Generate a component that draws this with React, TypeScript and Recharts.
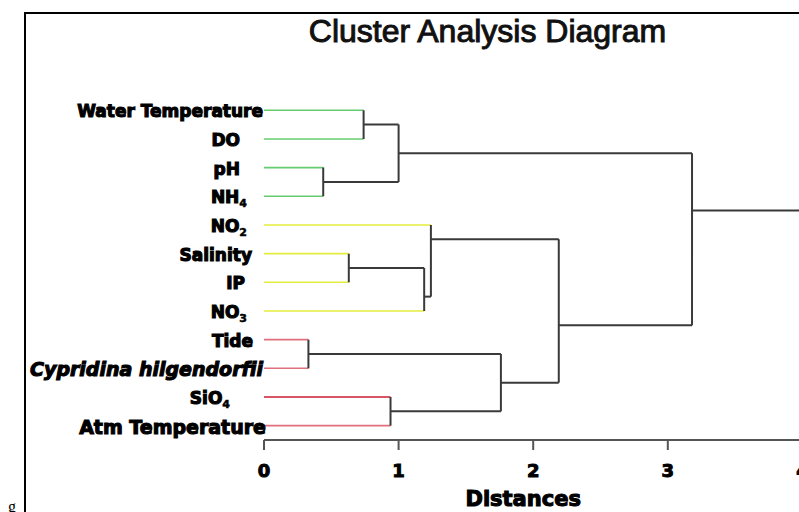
import React from 'react';
import { ScatterChart, Scatter, XAxis, YAxis } from 'recharts';

// ---- data ----
const leafLabels = [
  'Water Temperature',
  'DO',
  'pH',
  'NH4',
  'NO2',
  'Salinity',
  'IP',
  'NO3',
  'Tide',
  'Cypridina hilgendorfii',
  'SiO4',
  'Atm Temperature',
];
const leafGroups = ['green', 'green', 'green', 'green', 'yellow', 'yellow', 'yellow', 'yellow', 'red', 'red', 'darkred', 'red'];

// linkage: node ids 0..11 are leaves, 12.. are merges in order
const mergeLeft = [0, 2, 12, 5, 15, 4, 8, 10, 18, 17, 14];
const mergeRight = [1, 3, 13, 6, 7, 16, 9, 11, 19, 20, 21];
const mergeHeight = [0.74, 0.44, 1.0, 0.63, 1.19, 1.24, 0.33, 0.94, 1.76, 2.19, 3.18];
const mergePosition = [0.5, 2.5, 1.5, 5.5, 6.5, 4.5, 8.5, 10.5, 9.5, 7.5, 3.5];
const rootExtent = 4.05;
const distanceTicks = [0, 1, 2, 3, 4];
const leafTicks = leafLabels.map((_, i) => i);

// ---- styles ----
const GROUP_COLOR: Record<string, string> = {
  green: '#66cc6e',
  yellow: '#e4ec3c',
  red: '#e0707c',
  darkred: '#c81e32',
};
const LINK_COLOR = '#3a3a3a';
const LABEL_STYLE: Record<string, { dx?: number; size?: number; italic?: boolean }> = {
  'Water Temperature': { dx: -1 },
  DO: { dx: -24 },
  pH: { dx: -24 },
  NH4: { dx: -17 },
  NO2: { dx: -17 },
  Salinity: { dx: -12 },
  IP: { dx: -19 },
  NO3: { dx: -17 },
  Tide: { dx: -11 },
  'Cypridina hilgendorfii': { dx: -1, size: 19, italic: true },
  SiO4: { dx: -34 },
  'Atm Temperature': { dx: 2, size: 19 },
};

type Seg = { color: string; width: number; pts: { x: number; y: number }[] };

const nLeaves = leafLabels.length;
const nodeHeight = (id: number) => (id < nLeaves ? 0 : mergeHeight[id - nLeaves]);
const nodeY = (id: number) => (id < nLeaves ? id : mergePosition[id - nLeaves]);

function buildSegments(): Seg[] {
  const leafSegs: Seg[] = [];
  const linkSegs: Seg[] = [];
  mergeLeft.forEach((a, k) => {
    const b = mergeRight[k];
    const h = mergeHeight[k];
    [a, b].forEach((c) => {
      const seg: Seg = {
        color: c < nLeaves ? GROUP_COLOR[leafGroups[c]] : LINK_COLOR,
        width: c < nLeaves ? 1.6 : 2,
        pts: [
          { x: nodeHeight(c), y: nodeY(c) },
          { x: h, y: nodeY(c) },
        ],
      };
      (c < nLeaves ? leafSegs : linkSegs).push(seg);
    });
    linkSegs.push({
      color: LINK_COLOR,
      width: 2,
      pts: [
        { x: h, y: nodeY(a) },
        { x: h, y: nodeY(b) },
      ],
    });
  });
  const root = nLeaves + mergeLeft.length - 1;
  linkSegs.push({
    color: LINK_COLOR,
    width: 2,
    pts: [
      { x: nodeHeight(root), y: nodeY(root) },
      { x: rootExtent, y: nodeY(root) },
    ],
  });
  return [...leafSegs, ...linkSegs];
}

const segments = buildSegments();

const LeafTick = (props: any) => {
  const { x, y, payload } = props;
  const label = leafLabels[Number(payload.value)];
  if (label === undefined) return null;
  const st = LABEL_STYLE[label] || {};
  const size = st.size ?? 17;
  const m = /^(.*?)(\d)$/.exec(label);
  return (
    <text
      x={x + (st.dx ?? 0)}
      y={y + size * 0.42}
      textAnchor="end"
      fontFamily="'DejaVu Sans'"
      fontWeight="bold"
      fontStyle={st.italic ? 'italic' : 'normal'}
      fontSize={size}
      fill="#000"
      stroke="#000"
      strokeWidth={1.1}
    >
      {m ? (
        <>
          <tspan>{m[1]}</tspan>
          <tspan dy={4} fontSize={11} strokeWidth={0.5}>
            {m[2]}
          </tspan>
        </>
      ) : (
        label
      )}
    </text>
  );
};

const DistTick = (props: any) => {
  const { x, y, payload } = props;
  return (
    <text
      x={x}
      y={y + 25}
      textAnchor="middle"
      fontFamily="'DejaVu Sans'"
      fontWeight="bold"
      fontSize={18}
      fill="#000"
      stroke="#000"
      strokeWidth={1}
    >
      {payload.value}
    </text>
  );
};

const NoShape = () => <g />;

export default function App() {
  return (
    <div style={{ position: 'absolute', left: 0, top: 0, width: 799, height: 512, overflow: 'hidden', background: '#fff' }}>
      <ScatterChart width={830} height={512} margin={{ top: 81.6, right: 27.6, bottom: 0, left: 0 }}>
        <XAxis
          type="number"
          dataKey="x"
          domain={[0, 4]}
          ticks={distanceTicks}
          allowDataOverflow
          height={72}
          axisLine={{ stroke: '#555', strokeWidth: 2 }}
          tickLine={{ stroke: '#555', strokeWidth: 2 }}
          tickSize={10}
          tickMargin={2}
          tick={<DistTick />}
          label={{
            value: 'Distances',
            position: 'insideBottom',
            offset: 6,
            dx: -10,
            fontFamily: "'DejaVu Sans'",
            fontWeight: 'bold',
            fontSize: 21,
            fill: '#000',
            stroke: '#000',
            strokeWidth: 1.1,
          }}
        />
        <YAxis
          type="number"
          dataKey="y"
          domain={[-1, 11.5]}
          reversed
          allowDataOverflow
          ticks={leafTicks}
          interval={0}
          width={264}
          axisLine={false}
          tickLine={false}
          tickSize={0}
          tickMargin={0}
          tick={<LeafTick />}
        />
        {segments.map((s, i) => (
          <Scatter
            key={i}
            data={s.pts}
            isAnimationActive={false}
            shape={NoShape}
            line={{ stroke: s.color, strokeWidth: s.width }}
            legendType="none"
          />
        ))}
      </ScatterChart>
      <svg width={799} height={512} style={{ position: 'absolute', left: 0, top: 0, pointerEvents: 'none' }}>
        <line x1={24} y1={13} x2={799} y2={13} stroke="#000" strokeWidth={2} />
        <line x1={25} y1={12} x2={25} y2={512} stroke="#000" strokeWidth={2} />
        <text
          x={487.5}
          y={42}
          textAnchor="middle"
          fontFamily="'Liberation Sans', Arial, sans-serif"
          fontSize={32}
          fill="#111"
          stroke="#111"
          strokeWidth={1}
        >
          Cluster Analysis Diagram
        </text>
        <text x={8} y={512} fontFamily="serif" fontSize={16} fill="#000">
          g
        </text>
      </svg>
    </div>
  );
}
